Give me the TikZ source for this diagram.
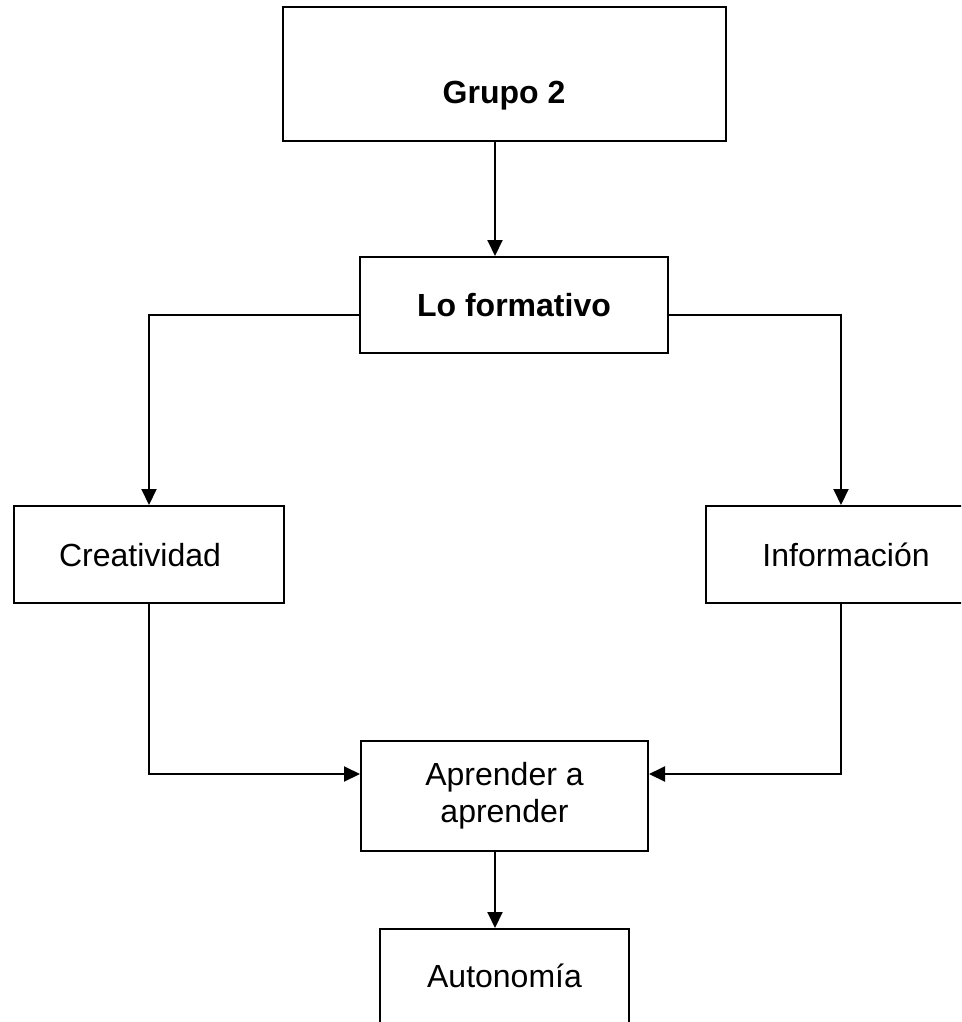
\documentclass[tikz,border=0pt]{standalone}
\usepackage{fontspec}
\setmainfont{Liberation Sans}
\usetikzlibrary{arrows.meta}
\begin{document}
\begin{tikzpicture}[x=1pt,y=-1pt,
  box/.style={draw=black,line width=2pt,rectangle,inner sep=0pt,fill=white},
  txt/.style={font=\fontsize{32}{36.8}\selectfont,align=center,inner sep=0pt},
  btxt/.style={font=\fontsize{32}{36.8}\selectfont\bfseries,align=center,inner sep=0pt},
  conn/.style={line width=2pt,draw=black},
  arr/.style={conn,-{Triangle[length=16pt,width=15pt]}}]
\useasboundingbox (0,0) rectangle (961,1022);
\clip (0,0) rectangle (961,1022);
\fill[white] (0,0) rectangle (961,1022);
% boxes
\node[box,minimum width=443pt,minimum height=134pt] (grupo) at (504.5,74) {};
\node[btxt,anchor=base] (grupoT) at (504,103.5) {Grupo 2};
\node[box,minimum width=308pt,minimum height=96pt,btxt] (lofo) at (514,305) {Lo formativo};
\node[box,minimum width=270pt,minimum height=97pt] (crea) at (149,554.5) {};
\node[txt] (creaT) at (140,555) {Creatividad};
\node[box,minimum width=280pt,minimum height=97pt,txt] (info) at (846,554.5) {Información};
\node[box,minimum width=287pt,minimum height=110pt,txt] (apr) at (504.5,796) {Aprender a\\aprender};
\node[box,minimum width=249pt,minimum height=94pt,txt] (auto) at (504.5,976) {Autonomía};
% connectors
\draw[arr] ([xshift=-9.5pt]grupo.south) -- ([xshift=-9.5pt]grupo.south |- lofo.north);
\draw[arr] ([yshift=-10pt]lofo.west) -| (crea.north);
\draw[arr] ([yshift=-10pt]lofo.east) -| ([xshift=-5pt]info.north);
\draw[arr] (crea.south) |- ([yshift=22pt]apr.west);
\draw[arr] ([xshift=-5pt]info.south) |- ([yshift=22pt]apr.east);
\draw[arr] ([xshift=-9.5pt]apr.south) -- ([xshift=-9.5pt]apr.south |- auto.north);
\end{tikzpicture}
\end{document}
